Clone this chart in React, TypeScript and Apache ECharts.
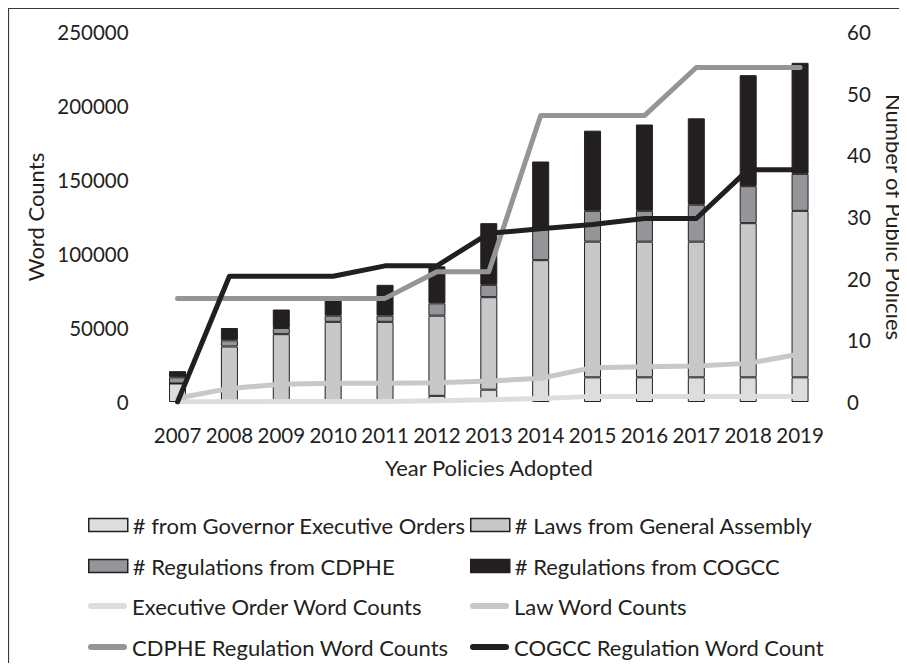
import React, { useEffect, useRef } from "react";
import * as echarts from "echarts";

const years = ["2007", "2008", "2009", "2010", "2011", "2012", "2013", "2014", "2015", "2016", "2017", "2018", "2019"];

// Number of public policies (right axis), stacked
const eoCounts = [3, 0, 0, 0, 0, 1, 2, 4, 4, 4, 4, 4, 4];
const lawCounts = [0, 9, 11, 13, 13, 13, 15, 19, 22, 22, 22, 25, 27];
const cdpheCounts = [1, 1, 1, 1, 1, 2, 2, 5, 5, 5, 6, 6, 6];
const cogccCounts = [1, 2, 3, 3, 5, 6, 10, 11, 13, 14, 14, 18, 18];

// Word counts (left axis)
const eoWords = [200, 200, 300, 300, 400, 900, 1500, 2300, 3800, 3800, 3800, 3800, 3800];
const lawWords = [2500, 9200, 12000, 12600, 12600, 13000, 14200, 16000, 23200, 23900, 24300, 26100, 32400];
const cdpheWords = [70000, 70000, 70000, 70000, 70000, 88000, 88000, 193500, 193500, 193500, 226000, 226000, 226000];
const cogccWords = [0, 85000, 85000, 85000, 92000, 92000, 114000, 117000, 120000, 124000, 124000, 157000, 157000];

const barNames = [
  "# from Governor Executive Orders",
  "# Laws from General Assembly",
  "# Regulations from CDPHE",
  "# Regulations from COGCC",
];
const lineNames = [
  "Executive Order Word Counts",
  "Law Word Counts",
  "CDPHE Regulation Word Counts",
  "COGCC Regulation Word Count",
];

const C_EO = "#dcddde";
const C_LAW = "#c7c8ca";
const C_CDPHE = "#939598";
const C_COGCC = "#231f20";
const TEXT = "#231f20";
const FONT = "Lato";
const FS_NUM = 20.5;
const FS_TXT = 22;

const linePath = "path://M3,0 H36 A3,3 0 0 1 36,6 H3 A3,3 0 0 1 3,0 Z";

export default function App() {
  const ref = useRef<HTMLDivElement>(null);
  useEffect(() => {
    if (!ref.current) return;
    const chart = echarts.init(ref.current, null, { renderer: "svg" });
    const barColors = [C_EO, C_LAW, C_CDPHE, C_COGCC];
    const barData = [eoCounts, lawCounts, cdpheCounts, cogccCounts];
    const lineColors = [C_EO, C_LAW, C_CDPHE, C_COGCC];
    const lineData = [eoWords, lawWords, cdpheWords, cogccWords];

    const barItem = (i: number) => ({
      name: barNames[i],
      icon: "rect",
      itemStyle: { color: barColors[i], borderColor: C_COGCC, borderWidth: 1.5 },
    });
    const lineItem = (i: number) => ({
      name: lineNames[i],
      icon: linePath,
      itemStyle: { color: lineColors[i], borderWidth: 0 },
    });

    const legendOne = (item: any, left: number, top: number) => ({
      orient: "horizontal" as const,
      itemWidth: 39,
      itemHeight: 13,
      selectedMode: false,
      textStyle: { fontFamily: FONT, fontSize: FS_TXT, color: TEXT, lineHeight: 22 },
      left,
      top,
      padding: 0,
      data: [item],
    });
    const rowTops = [506, 547, 587, 628];
    const colLeft = [80, 462];

    chart.setOption({
      animation: false,
      backgroundColor: "#ffffff",
      textStyle: { fontFamily: FONT },
      graphic: [
        {
          type: "rect",
          shape: { x: 0.5, y: 0.5, width: 2000, height: 2000 },
          style: { fill: "none", stroke: "#3a3a3a", lineWidth: 1.2 },
          silent: true,
        },
      ],
      grid: { left: 143.6, right: 81, top: 24, bottom: 261, outerBoundsMode: "none", containLabel: false },
      legend: [
        legendOne(barItem(0), colLeft[0], rowTops[0]),
        legendOne(barItem(1), colLeft[1], rowTops[0]),
        legendOne(barItem(2), colLeft[0], rowTops[1]),
        legendOne(barItem(3), colLeft[1], rowTops[1]),
        legendOne(lineItem(0), colLeft[0], rowTops[2]),
        legendOne(lineItem(1), colLeft[1], rowTops[2]),
        legendOne(lineItem(2), colLeft[0], rowTops[3]),
        legendOne(lineItem(3), colLeft[1], rowTops[3]),
      ],
      xAxis: {
        type: "category",
        data: years,
        axisLine: { show: false },
        axisTick: { show: false },
        axisLabel: { interval: 0, fontSize: FS_NUM, color: TEXT, fontFamily: FONT, margin: 22 },
        name: "Year Policies Adopted",
        nameLocation: "middle",
        nameGap: 54,
        nameTextStyle: { fontSize: FS_TXT, color: TEXT, fontFamily: FONT },
      },
      yAxis: [
        {
          type: "value",
          min: 0,
          max: 250000,
          interval: 50000,
          splitLine: { show: false },
          axisLine: { show: false },
          axisTick: { show: false },
          axisLabel: { fontSize: FS_NUM, color: TEXT, fontFamily: FONT, margin: 23, formatter: (v: number) => String(v) },
          name: "Word Counts",
          nameLocation: "middle",
          nameGap: 100,
          nameTextStyle: { fontSize: FS_TXT, color: TEXT, fontFamily: FONT },
        },
        {
          type: "value",
          position: "right",
          min: 0,
          max: 60,
          interval: 10,
          splitLine: { show: false },
          axisLine: { show: false },
          axisTick: { show: false },
          axisLabel: { fontSize: FS_NUM, color: TEXT, fontFamily: FONT, margin: 21, formatter: (v: number) => String(v) },
          name: "Number of Public Policies",
          nameLocation: "middle",
          nameRotate: -90,
          nameGap: 57,
          nameTextStyle: { fontSize: FS_TXT, color: TEXT, fontFamily: FONT },
        },
      ],
      series: [
        ...barData.map((d, i) => ({
          name: barNames[i],
          type: "bar",
          stack: "policies",
          yAxisIndex: 1,
          barWidth: 17,
          data: d,
          itemStyle: { color: barColors[i], borderColor: C_COGCC, borderWidth: 1 },
        })),
        ...lineData.map((d, i) => ({
          name: lineNames[i],
          type: "line",
          yAxisIndex: 0,
          data: d,
          symbol: "none",
          showSymbol: false,
          lineStyle: { color: lineColors[i], width: 5, cap: "round", join: "round" },
          itemStyle: { color: lineColors[i] },
        })),
      ],
    });
    return () => chart.dispose();
  }, []);
  return <div ref={ref} style={{ width: 899, height: 655 }} />;
}
